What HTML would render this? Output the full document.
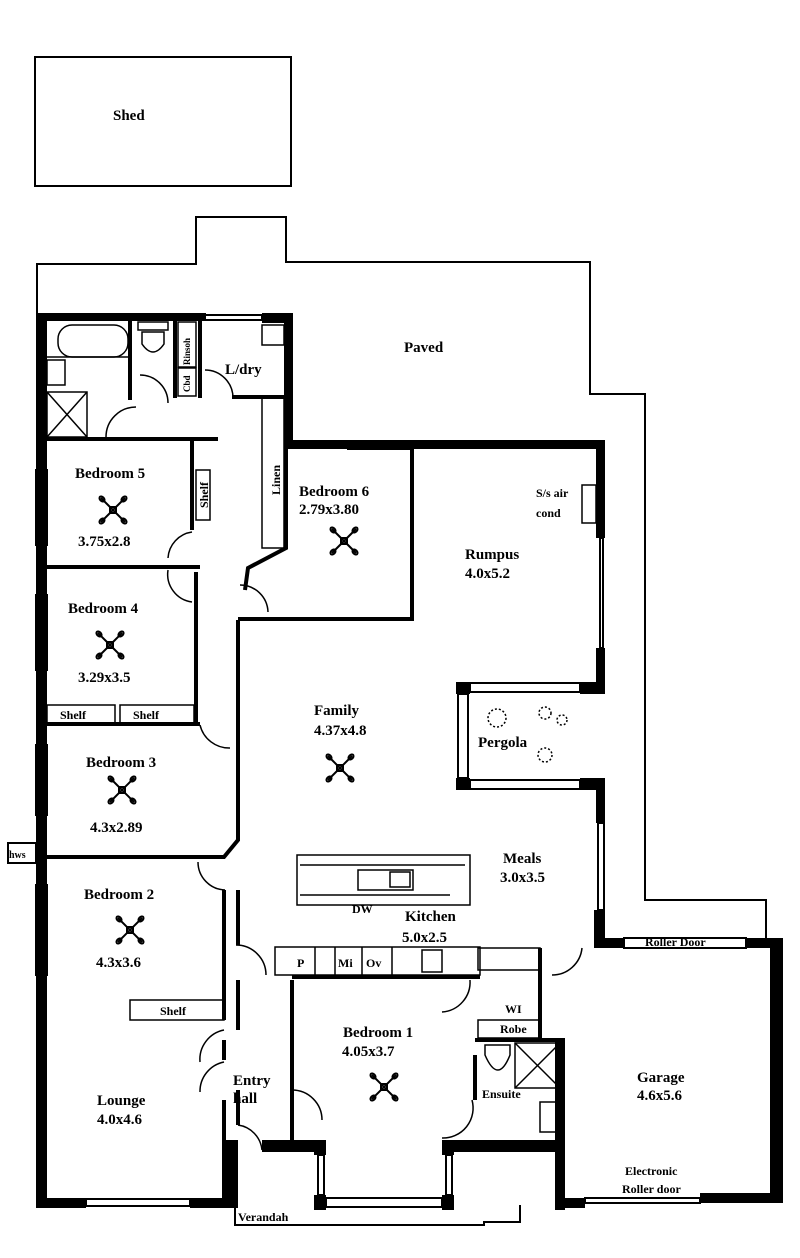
<!DOCTYPE html>
<html><head><meta charset="utf-8"><style>
html,body{margin:0;padding:0;background:#fff}
svg{display:block}
text{font-family:"Liberation Serif",serif;font-weight:bold;fill:#000}
</style></head><body>
<svg width="800" height="1258" viewBox="0 0 800 1258" xmlns="http://www.w3.org/2000/svg">
<defs>
<g id="fan" fill="none" stroke="#000" stroke-width="2">
<line x1="-12" y1="-12" x2="12" y2="12"/><line x1="12" y1="-12" x2="-12" y2="12"/>
<rect x="-3" y="-3" width="6" height="6"/>
<ellipse cx="-11" cy="-11" rx="3" ry="2" transform="rotate(45 -11 -11)"/>
<ellipse cx="11" cy="-11" rx="3" ry="2" transform="rotate(-45 11 -11)"/>
<ellipse cx="-11" cy="11" rx="3" ry="2" transform="rotate(-45 -11 11)"/>
<ellipse cx="11" cy="11" rx="3" ry="2" transform="rotate(45 11 11)"/>
</g>
</defs>
<g fill="none" stroke="#000" stroke-width="2">
<rect x="35" y="57" width="256" height="129"/>
<polyline points="37,313 37,264 196,264 196,217 286,217 286,262 590,262 590,394 645,394 645,900 766,900 766,940"/>
<polyline points="235,1190 235,1225 484,1225 484,1222 520,1222 520,1205"/>
</g>
<g fill="#000">
<rect x="36" y="313" width="11" height="895"/>
<rect x="36" y="313" width="170" height="8"/>
<rect x="262" y="313" width="30" height="10"/>
<rect x="284" y="313" width="9" height="135"/>
<rect x="284" y="440" width="320" height="9"/>
<rect x="596" y="440" width="9" height="98"/>
<rect x="596" y="648" width="9" height="45"/>
<rect x="456" y="682" width="14" height="12"/>
<rect x="580" y="682" width="25" height="12"/>
<rect x="456" y="778" width="14" height="12"/>
<rect x="580" y="778" width="25" height="12"/>
<rect x="596" y="778" width="9" height="45"/>
<rect x="594" y="910" width="11" height="38"/>
<rect x="594" y="938" width="30" height="10"/>
<rect x="746" y="938" width="37" height="10"/>
<rect x="770" y="938" width="13" height="262"/>
<rect x="700" y="1193" width="83" height="10"/>
<rect x="555" y="1040" width="10" height="170"/>
<rect x="555" y="1198" width="30" height="10"/>
<rect x="36" y="1198" width="50" height="10"/>
<rect x="190" y="1198" width="40" height="10"/>
<rect x="222" y="1140" width="16" height="68"/>
<rect x="262" y="1140" width="58" height="12"/>
<rect x="314" y="1140" width="12" height="15"/>
<rect x="314" y="1195" width="12" height="15"/>
<rect x="442" y="1140" width="12" height="15"/>
<rect x="442" y="1195" width="12" height="15"/>
<rect x="442" y="1140" width="123" height="12"/>
</g>
<g fill="none" stroke="#000" stroke-width="2">
<rect x="205" y="315" width="57" height="5"/>
<rect x="36" y="470" width="11" height="75"/>
<rect x="36" y="595" width="11" height="75"/>
<rect x="36" y="745" width="11" height="70"/>
<rect x="36" y="885" width="11" height="90"/>
<rect x="8" y="843" width="28" height="20"/>
<rect x="348" y="442" width="65" height="7"/>
<rect x="600" y="538" width="3" height="110"/>
<rect x="470" y="683" width="110" height="9"/>
<rect x="470" y="780" width="110" height="9"/>
<rect x="458" y="694" width="10" height="84"/>
<rect x="598" y="823" width="6" height="87"/>
<rect x="624" y="938" width="122" height="10"/>
<rect x="326" y="1198" width="116" height="9"/>
<rect x="318" y="1155" width="6" height="40"/>
<rect x="446" y="1155" width="6" height="40"/>
<rect x="86" y="1199" width="104" height="7"/>
<rect x="585" y="1198" width="115" height="5"/>
</g>
<g fill="none" stroke="#000" stroke-width="4">
<line x1="47" y1="439" x2="218" y2="439"/>
<line x1="192" y1="439" x2="192" y2="530"/>
<line x1="47" y1="567" x2="200" y2="567"/>
<line x1="196" y1="572" x2="196" y2="722"/>
<line x1="47" y1="724" x2="200" y2="724"/>
<polyline points="238,620 238,840 224,857 47,857"/>
<line x1="224" y1="890" x2="224" y2="1020"/>
<line x1="224" y1="1040" x2="224" y2="1060"/>
<line x1="224" y1="1100" x2="224" y2="1140"/>
<line x1="238" y1="890" x2="238" y2="945"/>
<line x1="238" y1="980" x2="238" y2="1030"/>
<line x1="238" y1="1090" x2="238" y2="1125"/>
<polyline points="286,447 286,548 248,568 245,590"/>
<polyline points="240,620 240,619 412,619 412,447"/>
<line x1="232" y1="397" x2="292" y2="397"/>
<line x1="292" y1="980" x2="292" y2="1140"/>
<line x1="292" y1="977" x2="480" y2="977"/>
<line x1="540" y1="948" x2="540" y2="1040"/>
<line x1="475" y1="1040" x2="565" y2="1040"/>
<line x1="475" y1="1055" x2="475" y2="1100"/>
<line x1="130" y1="320" x2="130" y2="400"/>
<line x1="175" y1="320" x2="175" y2="398"/>
<line x1="200" y1="320" x2="200" y2="398"/>
</g>
<g fill="none" stroke="#000" stroke-width="1.5">
<rect x="58" y="325" width="70" height="32" rx="14"/>
<polyline points="47,357 130,357"/>
<rect x="47" y="392" width="40" height="45"/><line x1="47" y1="392" x2="87" y2="437"/><line x1="87" y1="392" x2="47" y2="437"/>
<rect x="47" y="360" width="18" height="25"/>
<rect x="138" y="322" width="30" height="8"/><path d="M142 332 h22 v12 q-11 16 -22 0z"/>
<rect x="178" y="322" width="18" height="45"/><rect x="178" y="368" width="18" height="28"/>
<rect x="262" y="325" width="22" height="20"/>
<rect x="262" y="398" width="22" height="150"/>
<rect x="196" y="470" width="14" height="50"/>
<rect x="47" y="705" width="68" height="18"/><rect x="120" y="705" width="74" height="18"/>
<rect x="130" y="1000" width="94" height="20"/>
<rect x="275" y="947" width="205" height="28"/>
<line x1="315" y1="947" x2="315" y2="975"/><line x1="335" y1="947" x2="335" y2="975"/><line x1="362" y1="947" x2="362" y2="975"/><line x1="392" y1="947" x2="392" y2="975"/>
<rect x="422" y="950" width="20" height="22"/>
<rect x="297" y="855" width="173" height="50"/><line x1="300" y1="865" x2="465" y2="865"/><line x1="300" y1="895" x2="450" y2="895"/>
<rect x="358" y="870" width="55" height="20"/><rect x="390" y="872" width="20" height="15"/>
<rect x="478" y="948" width="62" height="22"/>
<rect x="478" y="1020" width="62" height="18"/>
<rect x="515" y="1043" width="45" height="45"/><line x1="515" y1="1043" x2="560" y2="1088"/><line x1="560" y1="1043" x2="515" y2="1088"/>
<path d="M485 1045 h25 v10 q-12 30 -25 0z"/>
<rect x="540" y="1102" width="17" height="30"/>
<rect x="582" y="485" width="14" height="38"/>
<path d="M106 437 A30 30 0 0 1 136 407"/>
<path d="M140 375 A28 28 0 0 1 168 403"/>
<path d="M205 370 A28 28 0 0 1 233 398"/>
<path d="M192 532 A28 28 0 0 0 168 558"/>
<path d="M168 570 A28 28 0 0 0 192 602"/>
<path d="M240 585 A28 28 0 0 1 268 612"/>
<path d="M200 725 A30 30 0 0 0 230 748"/>
<path d="M198 862 A28 28 0 0 0 225 890"/>
<path d="M236 945 A30 30 0 0 1 266 975"/>
<path d="M224 1030 A30 30 0 0 0 200 1062"/>
<path d="M224 1062 A30 30 0 0 0 200 1092"/>
<path d="M238 1125 A28 28 0 0 1 262 1150"/>
<path d="M292 1090 A30 30 0 0 1 322 1120"/>
<path d="M470 980 A30 30 0 0 1 442 1012"/>
<path d="M472 1100 A30 30 0 0 1 442 1138"/>
<path d="M582 948 A30 30 0 0 1 552 975"/>
<circle cx="497" cy="718" r="9" stroke-dasharray="2 2"/>
<circle cx="545" cy="713" r="6" stroke-dasharray="2 2"/>
<circle cx="562" cy="720" r="5" stroke-dasharray="2 2"/>
<circle cx="545" cy="755" r="7" stroke-dasharray="2 2"/>
</g>
<use href="#fan" x="113" y="510"/>
<use href="#fan" x="110" y="645"/>
<use href="#fan" x="122" y="790"/>
<use href="#fan" x="130" y="930"/>
<use href="#fan" x="344" y="541"/>
<use href="#fan" x="340" y="768"/>
<use href="#fan" x="384" y="1087"/>
<g font-size="15">
<text x="113" y="120">Shed</text>
<text x="404" y="352">Paved</text>
<text x="75" y="478">Bedroom 5</text>
<text x="78" y="546">3.75x2.8</text>
<text x="299" y="496">Bedroom 6</text>
<text x="299" y="514">2.79x3.80</text>
<text x="465" y="559">Rumpus</text>
<text x="465" y="578">4.0x5.2</text>
<text x="68" y="613">Bedroom 4</text>
<text x="78" y="682">3.29x3.5</text>
<text x="314" y="715">Family</text>
<text x="314" y="735">4.37x4.8</text>
<text x="478" y="747">Pergola</text>
<text x="86" y="767">Bedroom 3</text>
<text x="90" y="832">4.3x2.89</text>
<text x="503" y="863">Meals</text>
<text x="500" y="882">3.0x3.5</text>
<text x="84" y="899">Bedroom 2</text>
<text x="96" y="967">4.3x3.6</text>
<text x="405" y="921">Kitchen</text>
<text x="402" y="942">5.0x2.5</text>
<text x="343" y="1037">Bedroom 1</text>
<text x="342" y="1056">4.05x3.7</text>
<text x="637" y="1082">Garage</text>
<text x="637" y="1100">4.6x5.6</text>
<text x="97" y="1105">Lounge</text>
<text x="97" y="1124">4.0x4.6</text>
<text x="233" y="1085">Entry</text>
<text x="233" y="1103">hall</text>
</g>
<g font-size="12" font-weight="normal">
<text x="225" y="374" font-size="15">L/dry</text>
<text x="352" y="913">DW</text>
<text x="645" y="946">Roller Door</text>
<text x="625" y="1175">Electronic</text>
<text x="622" y="1193">Roller door</text>
<text x="238" y="1221">Verandah</text>
<text x="482" y="1098">Ensuite</text>
<text x="505" y="1013">WI</text>
<text x="500" y="1033">Robe</text>
<text x="536" y="497">S/s air</text>
<text x="536" y="517">cond</text>
<text x="160" y="1015">Shelf</text>
<text x="60" y="719">Shelf</text>
<text x="133" y="719">Shelf</text>
<text x="297" y="967">P</text>
<text x="338" y="967">Mi</text>
<text x="366" y="967">Ov</text>
<text x="9" y="858" font-size="10">hws</text>
<text transform="translate(208,508) rotate(-90)">Shelf</text>
<text transform="translate(280,495) rotate(-90)">Linen</text>
<text transform="translate(190,365) rotate(-90)" font-size="9">Rinsoh</text>
<text transform="translate(190,392) rotate(-90)" font-size="9">Cbd</text>
</g>
</svg>
</body></html>
